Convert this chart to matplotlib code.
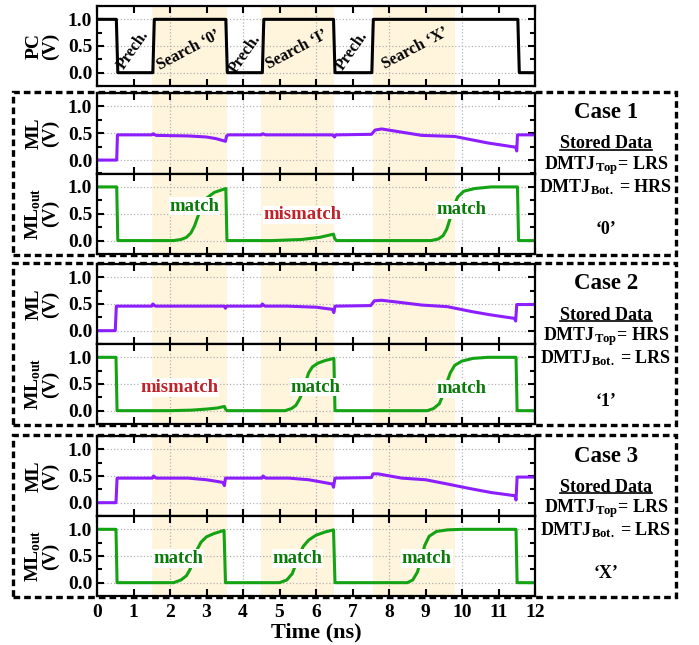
import matplotlib
matplotlib.use('Agg')
import matplotlib.pyplot as plt
from matplotlib.ticker import MultipleLocator, FormatStrFormatter
from matplotlib.patches import Rectangle
from matplotlib.lines import Line2D

plt.rcParams['font.family'] = 'Liberation Serif'
plt.rcParams['font.weight'] = 'bold'
plt.rcParams['axes.labelweight'] = 'bold'
plt.rcParams['mathtext.fontset'] = 'custom'
plt.rcParams['mathtext.rm'] = 'Liberation Serif:bold'
plt.rcParams['mathtext.bf'] = 'Liberation Serif:bold'
plt.rcParams['mathtext.it'] = 'Liberation Serif:bold:italic'

W, H = 699, 645

# ---- data ----
search_windows = [(1.5, 3.55), (4.5, 6.5), (7.55, 9.8)]

pc_t = [0, 0.53, 0.57, 1.53, 1.57, 3.53, 3.57, 4.53, 4.57, 6.48, 6.52, 7.53, 7.57, 11.53, 11.57, 12]
pc_v = [1, 1, 0, 0, 1, 1, 0, 0, 1, 1, 0, 0, 1, 1, 0, 0]

prech_x = [1.0, 4.05, 7.0]
prech_y = [0.43, 0.36, 0.42]
search_x = [2.5, 5.48, 8.72]
search_y = [0.42, 0.44, 0.45]
search_labels = ['Search \u20180\u2019', 'Search \u2018I\u2019', 'Search \u2018X\u2019']

# case 1
ml1_t = [0, 0.54, 0.56, 1.50, 1.54, 1.62, 2.50, 3.00, 3.26, 3.52, 3.55, 3.60, 4.50, 4.54, 4.62,
         6.45, 6.51, 6.54, 7.52, 7.62, 7.80, 8.35, 8.90, 9.80, 10.25, 10.70, 11.47, 11.50, 11.52, 12.0]
ml1_v = [0, 0, 0.47, 0.47, 0.49, 0.46, 0.45, 0.43, 0.40, 0.35, 0.45, 0.47, 0.47, 0.49, 0.47,
         0.47, 0.43, 0.47, 0.48, 0.56, 0.58, 0.52, 0.46, 0.44, 0.38, 0.32, 0.24, 0.17, 0.47, 0.47]
out1_t = [0, 0.54, 0.57, 2.10, 2.30, 2.45, 2.57, 2.67, 2.77, 2.88, 3.02, 3.22, 3.53, 3.56, 4.80,
          5.60, 6.10, 6.48, 6.51, 6.56, 9.15, 9.35, 9.48, 9.58, 9.67, 9.77, 9.88, 10.05, 10.35, 10.80,
          11.52, 11.55, 12.0]
out1_v = [1, 1, 0, 0, 0.02, 0.06, 0.14, 0.27, 0.46, 0.64, 0.80, 0.90, 0.97, 0, 0,
          0.02, 0.06, 0.12, 0.04, 0, 0, 0.03, 0.09, 0.21, 0.40, 0.63, 0.81, 0.92, 0.97, 1.0,
          1.0, 0, 0]

# case 2
ml2_t = [0, 0.50, 0.53, 1.50, 1.53, 1.60, 3.48, 3.52, 3.55, 4.50, 4.53, 4.60, 5.20, 6.00, 6.45,
         6.49, 6.52, 7.50, 7.60, 7.80, 8.30, 8.90, 9.60, 10.25, 10.75, 11.44, 11.47, 11.50, 12.0]
ml2_v = [0, 0, 0.46, 0.46, 0.50, 0.46, 0.46, 0.42, 0.46, 0.46, 0.50, 0.46, 0.46, 0.44, 0.40,
         0.34, 0.46, 0.47, 0.56, 0.57, 0.53, 0.48, 0.45, 0.36, 0.30, 0.23, 0.18, 0.49, 0.49]
out2_t = [0, 0.52, 0.55, 2.00, 2.60, 3.00, 3.30, 3.49, 3.52, 3.56, 5.15, 5.33, 5.45, 5.55, 5.63,
          5.72, 5.80, 5.90, 6.05, 6.25, 6.49, 6.52, 9.05, 9.22, 9.38, 9.48, 9.58, 9.68, 9.80, 10.00,
          10.30, 10.70, 11.48, 11.51, 12.0]
out2_v = [1, 1, 0, 0, 0.01, 0.03, 0.05, 0.08, 0.03, 0, 0, 0.04, 0.10, 0.22, 0.35,
          0.55, 0.71, 0.82, 0.89, 0.94, 0.98, 0, 0, 0.04, 0.13, 0.30, 0.52, 0.71, 0.85, 0.93,
          0.98, 1.0, 1.0, 0, 0]

# case 3
ml3_t = [0, 0.52, 0.55, 1.52, 1.55, 1.62, 2.50, 3.00, 3.45, 3.49, 3.52, 3.58, 4.52, 4.55, 4.62,
         5.26, 5.80, 6.45, 6.48, 6.52, 7.52, 7.56, 7.70, 8.35, 9.00, 9.60, 10.25, 10.80, 11.45, 11.48,
         11.51, 12.0]
ml3_v = [0, 0, 0.46, 0.46, 0.50, 0.46, 0.46, 0.43, 0.38, 0.32, 0.46, 0.46, 0.46, 0.50, 0.46,
         0.46, 0.43, 0.35, 0.29, 0.46, 0.47, 0.54, 0.54, 0.46, 0.43, 0.35, 0.26, 0.19, 0.13, 0.05,
         0.48, 0.48]
out3_t = [0, 0.52, 0.55, 2.10, 2.30, 2.45, 2.55, 2.65, 2.75, 2.85, 3.00, 3.20, 3.48, 3.52, 5.00,
          5.20, 5.35, 5.45, 5.55, 5.65, 5.80, 6.00, 6.25, 6.48, 6.52, 8.50, 8.65, 8.78, 8.88, 8.98,
          9.10, 9.30, 9.60, 10.00, 11.48, 11.51, 12.0]
out3_v = [1, 1, 0, 0, 0.05, 0.13, 0.25, 0.45, 0.63, 0.76, 0.86, 0.92, 0.98, 0, 0,
          0.05, 0.17, 0.35, 0.53, 0.68, 0.80, 0.89, 0.95, 0.99, 0, 0, 0.05, 0.20, 0.45, 0.70,
          0.87, 0.96, 0.99, 1.0, 1.0, 0, 0]

# match / mismatch annotations: (x, y, text)
notes1 = [(2.67, 0.64, 'match'), (5.63, 0.48, 'mismatch'), (9.99, 0.57, 'match')]
notes2 = [(2.26, 0.43, 'mismatch'), (5.99, 0.44, 'match'), (9.99, 0.41, 'match')]
notes3 = [(2.22, 0.45, 'match'), (5.49, 0.45, 'match'), (9.04, 0.45, 'match')]

case_names = ['Case 1', 'Case 2', 'Case 3']
top_state = ['LRS', 'HRS', 'LRS']
bot_state = ['HRS', 'LRS', 'LRS']
stored_val = ['\u20180\u2019', '\u20181\u2019', '\u2018X\u2019']

# ---- style ----
shade = '#FFF4DC'
purple = '#8C1EFF'
green = '#14A314'
match_c = '#0B7A0B'
mism_c = '#C0222A'

fig = plt.figure(figsize=(W / 100, H / 100), dpi=100)


def box(top, bottom, left=97, right=535):
    return [left / W, 1 - bottom / H, (right - left) / W, (bottom - top) / H]


def style(ax, label, bottom=False):
    ax.set_xlim(0, 12)
    ax.set_ylim(-0.25, 1.25)
    for a, b in search_windows:
        ax.axvspan(a, b, color=shade, lw=0, zorder=0)
    ax.xaxis.set_major_locator(MultipleLocator(2))
    ax.xaxis.set_minor_locator(MultipleLocator(1))
    ax.yaxis.set_major_locator(MultipleLocator(0.5))
    ax.yaxis.set_minor_locator(MultipleLocator(0.25))
    ax.yaxis.set_major_formatter(FormatStrFormatter('%.1f'))
    ax.tick_params(which='both', direction='in', top=True, right=True, width=1.5, labelsize=14)
    ax.tick_params(which='major', length=5)
    ax.tick_params(axis='x', which='minor', length=5)
    ax.tick_params(axis='y', which='minor', length=3.5)
    ax.grid(True, which='major', color='#b4b4b4', linestyle=':', linewidth=0.9)
    for s in ax.spines.values():
        s.set_linewidth(1.6)
    if bottom:
        ax.xaxis.set_major_formatter(FormatStrFormatter('%d'))
        ax.xaxis.set_minor_formatter(FormatStrFormatter('%d'))
        ax.tick_params(axis='x', which='both', pad=6)
        ax.set_xlabel('Time (ns)', fontsize=16, labelpad=1)
    else:
        ax.tick_params(axis='x', which='both', labelbottom=False)
    ax.set_ylabel(label, fontsize=14, linespacing=0.95, labelpad=6)


# PC panel
ax = fig.add_axes(box(6, 86))
style(ax, 'PC\n(V)')
ax.plot(pc_t, pc_v, color='black', lw=2.2)
for x, y in zip(prech_x, prech_y):
    ax.text(x, y, 'Prech.', fontsize=11.5, rotation=55, rotation_mode='anchor',
            ha='center', va='center')
for x, y, s in zip(search_x, search_y, search_labels):
    ax.text(x, y, s, fontsize=11.5, rotation=28, rotation_mode='anchor',
            ha='center', va='center')

cases = [
    (93, 173.5, 254, ml1_t, ml1_v, out1_t, out1_v, notes1),
    (264, 344, 424, ml2_t, ml2_v, out2_t, out2_v, notes2),
    (436, 516, 596, ml3_t, ml3_v, out3_t, out3_v, notes3),
]

for i, (top, mid, bot, mt, mv, ot, ov, notes) in enumerate(cases):
    ax1 = fig.add_axes(box(top, mid))
    style(ax1, 'ML\n(V)')
    ax1.plot(mt, mv, color=purple, lw=2.2, solid_joinstyle='round')

    ax2 = fig.add_axes(box(mid, bot))
    style(ax2, 'ML$_{\\mathrm{out}}$\n(V)', bottom=(i == 2))
    ax2.plot(ot, ov, color=green, lw=2.2, solid_joinstyle='round')
    for x, y, s in notes:
        ax2.text(x, y, s, fontsize=13.5, color=match_c if s == 'match' else mism_c,
                 ha='center', va='center', zorder=5,
                 bbox=dict(facecolor='white', edgecolor='none', pad=0.6))

    # dashed frame
    T = top - 1
    fig.add_artist(Rectangle((13 / W, 1 - (bot + 1) / H), (676 - 13) / W, (bot + 1 - T) / H,
                             transform=fig.transFigure, fill=False, ec='black', lw=2.4,
                             ls=(0, (2.0, 1.2)), zorder=10, clip_on=False))

    cx = 606 / W
    fig.text(cx, 1 - (T + 21) / H, case_names[i], fontsize=16.5, ha='center', va='center')
    sd = fig.text(cx, 1 - (T + 52) / H, 'Stored Data', fontsize=13, ha='center', va='center')
    fig.text(cx, 1 - (T + 74) / H, 'DMTJ$_{\\mathrm{Top}}$= ' + top_state[i], fontsize=13,
             ha='center', va='center')
    fig.text(cx, 1 - (T + 95) / H, 'DMTJ$_{\\mathrm{Bot.}}$ = ' + bot_state[i], fontsize=13,
             ha='center', va='center')
    fig.text(cx, 1 - (T + 138) / H, stored_val[i], fontsize=13, ha='center', va='center')

    fig.canvas.draw()
    bb = sd.get_window_extent(fig.canvas.get_renderer())
    inv = fig.transFigure.inverted()
    (x0, y0), (x1, _) = inv.transform([(bb.x0, bb.y0 + 2.5), (bb.x1, bb.y0 + 2.5)])
    fig.add_artist(Line2D([x0, x1], [y0, y0], transform=fig.transFigure, color='black', lw=1.2))

fig.savefig('out.png', dpi=100)
